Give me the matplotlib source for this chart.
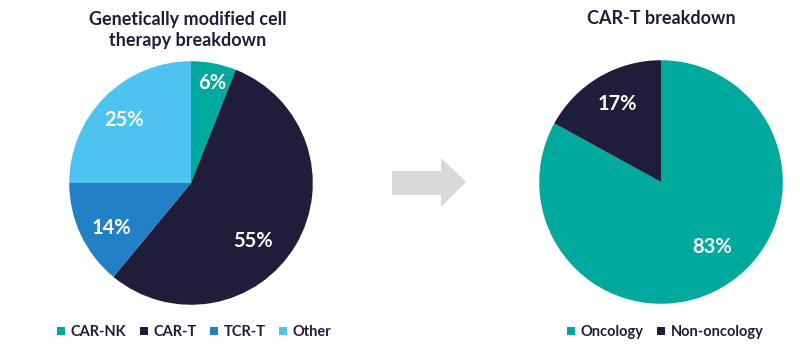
import matplotlib.pyplot as plt
from matplotlib.patches import Polygon
from matplotlib.lines import Line2D

# data
gm_labels = ["CAR-NK", "CAR-T", "TCR-T", "Other"]
gm_values = [6, 55, 14, 25]
gm_colors = ["#00A99D", "#201D3B", "#2280C6", "#4FC3F0"]

cart_labels = ["Oncology", "Non-oncology"]
cart_values = [83, 17]
cart_colors = ["#00A99D", "#201D3B"]

TEXT = "#201D3B"
FONT = "Lato"


def draw_pie(ax, values, colors, label_pos):
    ax.pie(values, colors=colors, startangle=90, counterclock=False,
           radius=1, wedgeprops=dict(linewidth=0))
    for v, (x, y) in zip(values, label_pos):
        ax.text(x, y, f"{v}%", ha="center", va="center", color="white",
                fontsize=14.5, fontweight="bold", family=FONT)
    ax.set_xlim(-1.01, 1.01)
    ax.set_ylim(-1.01, 1.01)
    ax.set_aspect("equal")
    ax.axis("off")


def add_legend(ax, labels, colors, x, ncol):
    handles = [Line2D([], [], marker="s", linestyle="", markersize=5.5,
                      markerfacecolor=c, markeredgewidth=0) for c in colors]
    ax.legend(handles, labels, loc="center", bbox_to_anchor=(x, 18 / 350),
              bbox_transform=ax.figure.transFigure, ncol=ncol, frameon=False,
              handlelength=0.6, handletextpad=0.35, columnspacing=0.9,
              prop=dict(family=FONT, weight="bold", size=10.5),
              labelcolor=TEXT)


def main():
    fig = plt.figure(figsize=(8, 3.5), dpi=100)

    # arrow in the middle (background layer in pixel coords)
    bg = fig.add_axes([0, 0, 1, 1], zorder=0)
    bg.set_xlim(0, 800)
    bg.set_ylim(350, 0)
    bg.axis("off")
    bg.add_patch(Polygon([(392, 171), (441, 171), (441, 158), (466, 182),
                          (441, 207), (441, 195), (392, 195)],
                         closed=True, color="#D9D9D9", linewidth=0))

    R = 123
    # left pie
    ax1 = fig.add_axes([(191 - R) / 800, (350 - 183 - R) / 350,
                        2 * R / 800, 2 * R / 350], zorder=1)
    draw_pie(ax1, gm_values, gm_colors,
             [(0.17, 0.82), (0.51, -0.48), (-0.65, -0.37), (-0.55, 0.52)])
    add_legend(ax1, gm_labels, gm_colors, 194 / 800, 4)

    # right pie
    ax2 = fig.add_axes([(661 - R) / 800, (350 - 182 - R) / 350,
                        2 * R / 800, 2 * R / 350], zorder=1)
    draw_pie(ax2, cart_values, cart_colors, [(0.42, -0.53), (-0.36, 0.64)])
    add_legend(ax2, cart_labels, cart_colors, 665 / 800, 2)

    fig.text(188 / 800, 1 - 30 / 350, "Genetically modified cell\ntherapy breakdown",
             ha="center", va="center", color=TEXT, fontsize=13,
             fontweight="bold", family=FONT, linespacing=1.25)
    fig.text(661 / 800, 1 - 18 / 350, "CAR-T breakdown",
             ha="center", va="center", color=TEXT, fontsize=13,
             fontweight="bold", family=FONT)

    fig.savefig("out.png", dpi=100, facecolor="white")


if __name__ == "__main__":
    main()
